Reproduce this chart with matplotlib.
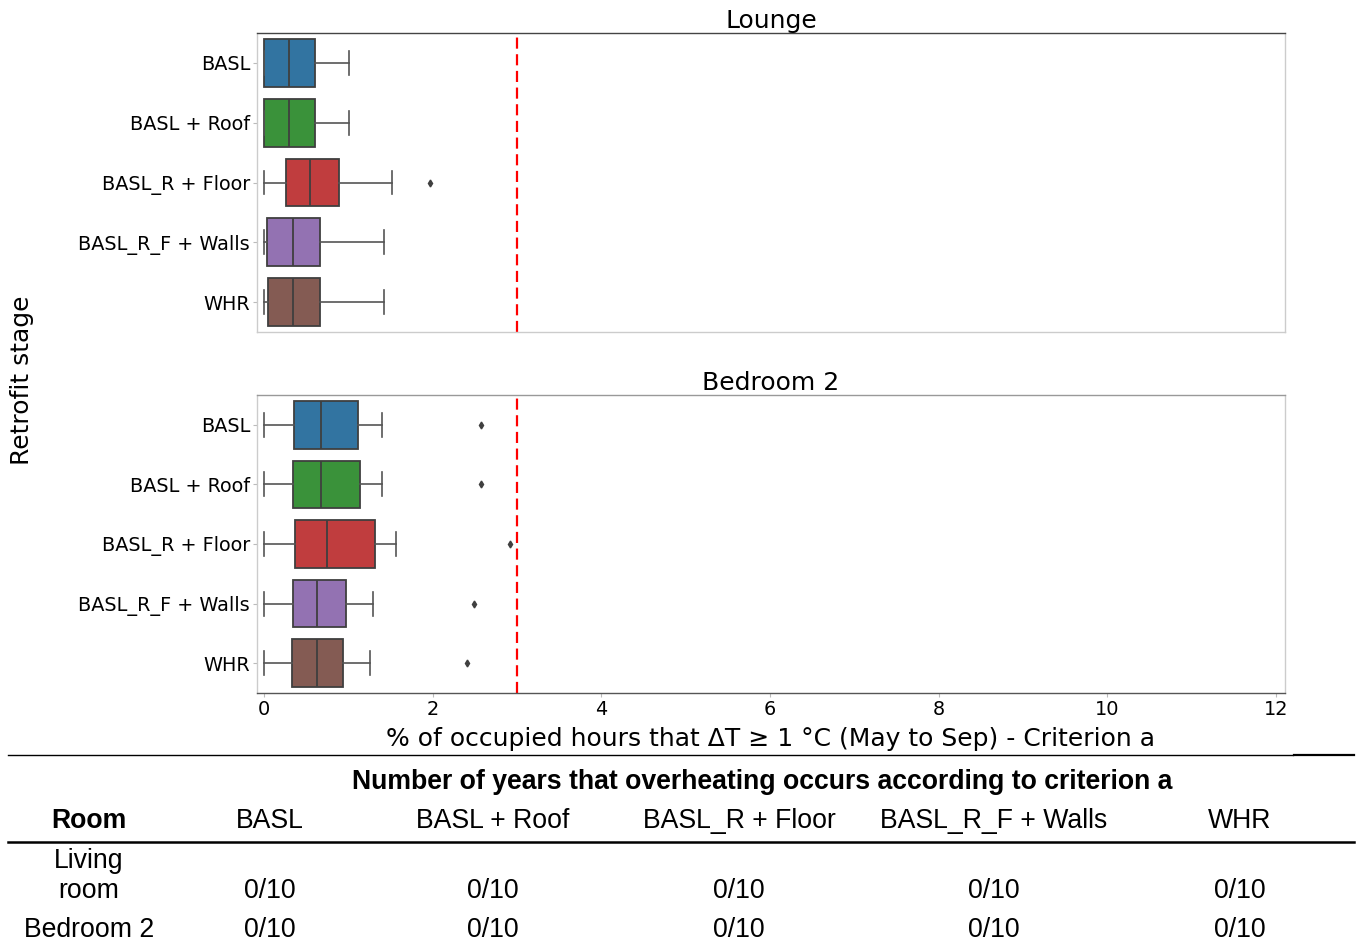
import matplotlib
matplotlib.use("Agg")
import matplotlib.pyplot as plt
from matplotlib.lines import Line2D
import colorsys
import matplotlib.colors as mcolors

# Retrofit stages (top to bottom)
stages = ["BASL", "BASL + Roof", "BASL_R + Floor", "BASL_R_F + Walls", "WHR"]

# Box statistics, % of occupied hours with dT >= 1 C (May to Sep)
lounge_whislo = [0.0, 0.0, 0.0, 0.0, 0.0]
lounge_q1 = [0.0, 0.0, 0.26, 0.03, 0.04]
lounge_med = [0.29, 0.29, 0.54, 0.34, 0.34]
lounge_q3 = [0.60, 0.60, 0.89, 0.66, 0.66]
lounge_whishi = [1.01, 1.01, 1.52, 1.42, 1.42]
lounge_fliers = [[], [], [1.97], [], []]

bed2_whislo = [0.0, 0.0, 0.0, 0.0, 0.0]
bed2_q1 = [0.35, 0.34, 0.37, 0.34, 0.33]
bed2_med = [0.68, 0.68, 0.75, 0.63, 0.63]
bed2_q3 = [1.11, 1.14, 1.32, 0.97, 0.94]
bed2_whishi = [1.40, 1.40, 1.56, 1.29, 1.26]
bed2_fliers = [[2.57], [2.57], [2.92], [2.49], [2.41]]

threshold = 3.0
xticks = [0, 2, 4, 6, 8, 10, 12]

# Overheating occurrence table
table_title = "Number of years that overheating occurs according to criterion a"
table_cols = ["BASL", "BASL + Roof", "BASL_R + Floor", "BASL_R_F + Walls", "WHR"]
table_rooms = [["Living", "room"], ["Bedroom 2"]]
table_values = [["0/10"] * 5, ["0/10"] * 5]


def desaturate(color, prop=0.75):
    r, g, b = mcolors.to_rgb(color)
    h, l, s = colorsys.rgb_to_hls(r, g, b)
    return colorsys.hls_to_rgb(h, l, s * prop)


base = plt.get_cmap("tab10").colors
box_colors = [desaturate(base[i]) for i in (0, 2, 3, 4, 5)]
line_gray = "#3f3f3f"

W, H = 1362, 948
fig = plt.figure(figsize=(W / 100, H / 100), dpi=100)


def fx(px):
    return px / W


def fy(py):
    return 1 - py / H


def panel(top, bottom, title, whislo, q1, med, q3, whishi, fliers, show_x):
    ax = fig.add_axes([fx(257), fy(bottom), fx(1285) - fx(257), fy(top) - fy(bottom)])
    stats = []
    for i in range(len(stages)):
        stats.append(dict(whislo=whislo[i], q1=q1[i], med=med[i], q3=q3[i],
                          whishi=whishi[i], fliers=fliers[i]))
    bp = ax.bxp(stats, positions=range(len(stages)), vert=False, widths=0.8,
                patch_artist=True, showfliers=True,
                boxprops=dict(edgecolor=line_gray, linewidth=1.3),
                medianprops=dict(color=line_gray, linewidth=1.3),
                whiskerprops=dict(color="#555555", linewidth=1.2),
                capprops=dict(color="#555555", linewidth=1.2),
                flierprops=dict(marker="d", markersize=3.5, markerfacecolor=line_gray,
                                markeredgecolor=line_gray))
    for patch, c in zip(bp["boxes"], box_colors):
        patch.set_facecolor(c)
    ax.axvline(threshold, color="red", linestyle=(0, (5, 2.5)), linewidth=1.6)
    ax.set_xlim(-0.085, 12.11)
    ax.set_ylim(4.5, -0.5)
    ax.set_yticks(range(len(stages)))
    ax.set_yticklabels(stages, fontsize=13.9)
    ax.set_xticks(xticks)
    ax.tick_params(axis="both", length=3, color="#bbbbbb", width=0.8, pad=2)
    if show_x:
        ax.set_xticklabels([str(t) for t in xticks], fontsize=13.9)
        ax.set_xlabel("% of occupied hours that \u0394T \u2265 1 \u00b0C (May to Sep) - Criterion a",
                      fontsize=18, labelpad=5.5)
    else:
        ax.set_xticklabels([])
        ax.tick_params(axis="x", length=0)
    ax.set_title(title, fontsize=18, pad=2)
    for s in ax.spines.values():
        s.set_color("#cccccc")
        s.set_linewidth(1.0)
    ax.spines["top"].set_color("#444444")
    return ax


panel(33, 332, "Lounge", lounge_whislo, lounge_q1, lounge_med, lounge_q3,
      lounge_whishi, lounge_fliers, False)
ax2 = panel(395, 693, "Bedroom 2", bed2_whislo, bed2_q1, bed2_med, bed2_q3,
            bed2_whishi, bed2_fliers, True)
ax2.spines["top"].set_color("#999999")
ax2.spines["bottom"].set_color("#555555")

fig.text(fx(22), fy(380), "Retrofit stage", rotation=90, ha="center", va="center",
         fontsize=18)

# Table below the chart
tfont = "Liberation Sans"
tsize = 19.2
fig.add_artist(Line2D([fx(8), fx(1293)], [fy(755), fy(755)], color="black", linewidth=1.0))
fig.add_artist(Line2D([fx(1294), fx(1354)], [fy(755), fy(755)], color="black", linewidth=1.6))
fig.add_artist(Line2D([fx(8), fx(1354)], [fy(842), fy(842)], color="black", linewidth=1.8))

fig.text(fx(762), fy(789), table_title, ha="center", va="baseline", fontsize=tsize,
         fontweight="bold", family=tfont)
col_x = [270, 493, 739, 994, 1240]
fig.text(fx(89), fy(828), "Room", ha="center", va="baseline", fontsize=tsize,
         fontweight="bold", family=tfont)
for x, c in zip(col_x, table_cols):
    fig.text(fx(x), fy(828), c, ha="center", va="baseline", fontsize=tsize, family=tfont)

row_base = [898, 937]
fig.text(fx(89), fy(868), table_rooms[0][0], ha="center", va="baseline", fontsize=tsize,
         family=tfont)
fig.text(fx(89), fy(898), table_rooms[0][1], ha="center", va="baseline", fontsize=tsize,
         family=tfont)
fig.text(fx(89), fy(937), table_rooms[1][0], ha="center", va="baseline", fontsize=tsize,
         family=tfont)
for r, y in enumerate(row_base):
    for x, v in zip(col_x, table_values[r]):
        fig.text(fx(x), fy(y), v, ha="center", va="baseline", fontsize=tsize, family=tfont)

fig.savefig("out.png", dpi=100)
